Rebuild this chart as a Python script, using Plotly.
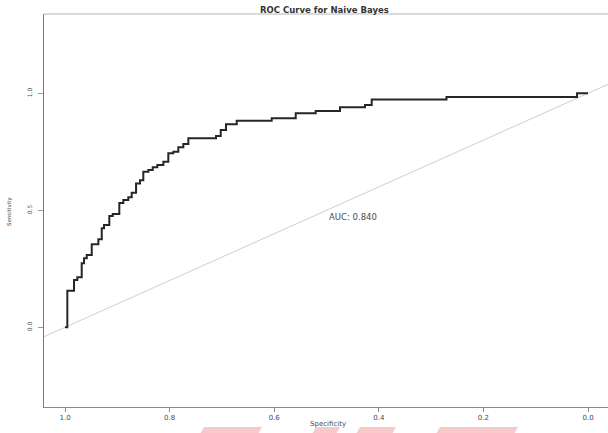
import plotly.graph_objects as go

# ROC curve vertices
specificity = [1.000, 0.9956, 0.9828, 0.9765, 0.9681, 0.9637, 0.9585, 0.9489, 0.9363,
               0.9298, 0.9254, 0.9153, 0.9088, 0.8962, 0.8885, 0.8790, 0.8725, 0.8642,
               0.8566, 0.8503, 0.8407, 0.8323, 0.8235, 0.8120, 0.8025, 0.7929, 0.7834,
               0.7738, 0.7642, 0.7113, 0.7023, 0.6922, 0.6717, 0.6048, 0.5589, 0.5207,
               0.4742, 0.4264, 0.4136, 0.2706, 0.0210, 0.0000]
sensitivity = [0.000, 0.156, 0.202, 0.214, 0.274, 0.295, 0.309, 0.355, 0.376,
               0.423, 0.437, 0.476, 0.484, 0.531, 0.544, 0.556, 0.575, 0.615,
               0.629, 0.665, 0.672, 0.684, 0.694, 0.708, 0.744, 0.750, 0.769,
               0.783, 0.808, 0.818, 0.843, 0.868, 0.883, 0.893, 0.915, 0.924,
               0.940, 0.950, 0.974, 0.984, 1.000, 1.000]
auc_value = 0.840
x_ticks = [1.0, 0.8, 0.6, 0.4, 0.2, 0.0]
x_ticktext = ["1.0", "0.8", "0.6", "0.4", "0.2", "0.0"]
y_ticks = [0.0, 0.5, 1.0]
y_ticktext = ["0.0", "0.5", "1.0"]
diag_spec = [1.2, -0.2]
diag_sens = [1 - s for s in diag_spec]

W, H = 608, 433
L, R, T, B = 44, 0, 14, 26
PW, PH = W - L - R, H - T - B

def px(xp):
    return (xp - L) / PW

def py(yp):
    return (H - B - yp) / PH

FONT = "DejaVu Sans"
TXT = "#4a4a4a"

fig = go.Figure()
fig.add_trace(go.Scatter(x=diag_spec, y=diag_sens, mode="lines",
                         line=dict(color="#cfcfcf", width=1), hoverinfo="skip",
                         showlegend=False))
fig.add_trace(go.Scatter(x=specificity, y=sensitivity, mode="lines",
                         line=dict(color="#262626", width=2, shape="hv"),
                         showlegend=False))

fig.update_layout(
    width=W, height=H,
    margin=dict(l=L, r=R, t=T, b=B, pad=0),
    paper_bgcolor="white", plot_bgcolor="white",
    font=dict(family=FONT, color=TXT),
    xaxis=dict(range=[1.0402, -0.0382], tickvals=x_ticks, ticktext=x_ticktext,
               showline=True, linecolor="#8a8a8a", linewidth=1,
               ticks="outside", ticklen=4, tickcolor="#8a8a8a",
               showgrid=False, zeroline=False, tickfont=dict(size=7, color=TXT)),
    yaxis=dict(range=[-0.3406, 1.339], tickvals=y_ticks, ticktext=y_ticktext,
               showline=True, linecolor="#7a7a7a", linewidth=1,
               ticks="outside", ticklen=5, tickcolor="#9a9a9a", tickangle=-90,
               ticklabelstandoff=4,
               showgrid=False, zeroline=False, tickfont=dict(size=6, color=TXT)),
    shapes=[
        dict(type="line", xref="paper", yref="paper", x0=0, x1=1, y0=1, y1=1,
             line=dict(color="#b5b5b5", width=1.2)),
    ],
)

# faint pink watermark fragments at the bottom edge
pink = [(200, 258), (312, 336), (356, 392), (436, 514)]
for a, b in pink:
    fig.add_shape(type="path", xref="paper", yref="paper",
                  path=f"M {px(a+4)},{py(427)} L {px(b+4)},{py(427)} L {px(b)},{py(434)} L {px(a)},{py(434)} Z",
                  fillcolor="#f7c9c9", line=dict(width=0), layer="below")

fig.add_annotation(xref="paper", yref="paper", x=px(324), y=py(10),
                   text="<b>ROC Curve for Naive Bayes</b>", showarrow=False,
                   xanchor="center", yanchor="middle",
                   font=dict(size=8.5, color="#333333", family=FONT))
fig.add_annotation(xref="paper", yref="paper", x=px(328), y=py(424),
                   text="Specificity", showarrow=False,
                   xanchor="center", yanchor="middle",
                   font=dict(size=7, color=TXT, family=FONT))
fig.add_annotation(xref="paper", yref="paper", x=px(10), y=py(212),
                   text="Sensitivity", showarrow=False, textangle=-90,
                   xanchor="center", yanchor="middle",
                   font=dict(size=5.5, color=TXT, family=FONT))
fig.add_annotation(x=0.5, y=0.5, xref="x", yref="y",
                   text=f"AUC: {auc_value:.3f}", showarrow=False,
                   xanchor="left", yanchor="top",
                   font=dict(size=8.5, color=TXT, family=FONT))

fig.write_html("out.html")
